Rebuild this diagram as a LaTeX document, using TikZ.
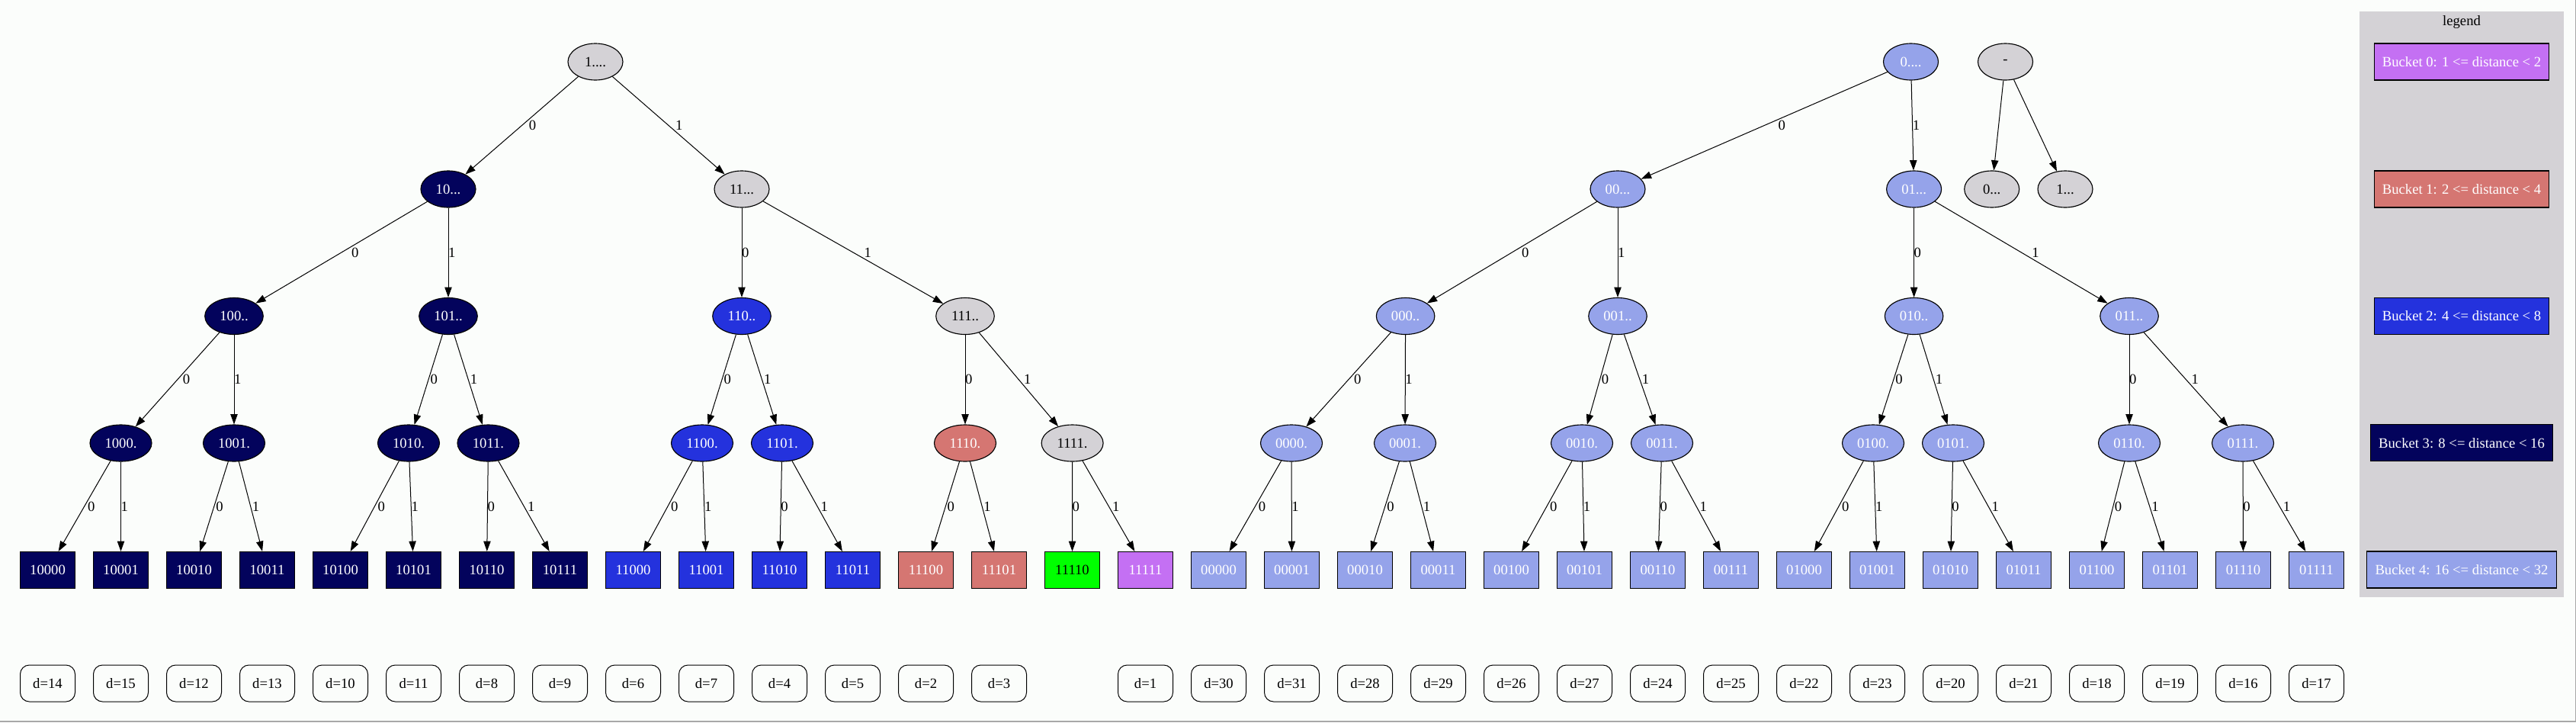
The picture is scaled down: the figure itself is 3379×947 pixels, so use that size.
\documentclass[tikz,border=0pt]{standalone}
\usepackage{fontspec}
\setmainfont{Liberation Serif}
\usetikzlibrary{shapes.geometric,arrows.meta,calc}
\definecolor{bgc}{HTML}{FBFDFB}
\definecolor{cgrey}{HTML}{D4D2D6}
\definecolor{cnavy}{HTML}{03035C}
\definecolor{cblue}{HTML}{2432DD}
\definecolor{cred}{HTML}{D57672}
\definecolor{cpurple}{HTML}{C470F3}
\definecolor{clb}{HTML}{95A3EA}
\definecolor{cgreen}{HTML}{00FF00}
\definecolor{cframe}{HTML}{A8A8A8}
\tikzset{
  every node/.style={font=\fontsize{14pt}{16pt}\selectfont},
  en/.style={ellipse, draw=black, line width=0.85pt, minimum height=36pt, minimum width=54pt, inner sep=0pt},
  wthree/.style={minimum width=57.4pt},
  wfour/.style={minimum width=60.75pt},
  lf/.style={rectangle, draw=black, line width=0.85pt, minimum width=54pt, minimum height=36pt, inner sep=0pt},
  dn/.style={rectangle, rounded corners=9pt, draw=black, line width=0.75pt, minimum width=54pt, minimum height=36pt, inner sep=0pt},
  lg/.style={rectangle, draw=black, line width=0.85pt, minimum height=36pt, inner xsep=8pt, text=white},
  cg/.style={fill=cgrey, text=black},
  cz/.style={fill=cpurple, text=white},
  co/.style={fill=cred, text=white},
  ct/.style={fill=cblue, text=white},
  cth/.style={fill=cnavy, text=white},
  cf/.style={fill=clb, text=white},
  cs/.style={fill=cgreen, text=black},
  edge/.style={draw=black, line width=0.75pt, -{Triangle[length=10pt,width=7pt]}},
  elbl/.style={inner sep=0pt, text=black},
}
\newcommand\edg[3]{%
  \draw[edge] (#1) -- (#2);
  \path let \p1=(#1.center), \p2=(#2.center),
    \n1={abs(\x2-\x1)/abs(\y2-\y1)} in
    node[elbl] at ($(\p1)!0.5!(\p2)+(3.5pt+6pt*\n1,0pt)$) {#3};}
\begin{document}
\begin{tikzpicture}[x=0.75pt,y=-0.75pt]
\useasboundingbox (0,0) rectangle (3379,947);
\fill[bgc] (0,0) rectangle (3379,947);
% legend cluster
\fill[cgrey] (3095,15) rectangle (3363,782.6);
\node (legendtitle) at (3229,29) {legend};
\node[lg, fill=cpurple] (b0) at (3229,81) {Bucket 0: 1 <= distance < 2};
\node[lg, fill=cred] (b1) at (3229,248) {Bucket 1: 2 <= distance < 4};
\node[lg, fill=cblue] (b2) at (3229,414.6) {Bucket 2: 4 <= distance < 8};
\node[lg, fill=cnavy] (b3) at (3229,580.7) {Bucket 3: 8 <= distance < 16};
\node[lg, fill=clb] (b4) at (3229,747) {Bucket 4: 16 <= distance < 32};
% row 0
\node[en,cg] (n1) at (781,81) {1....};
\node[en,cf] (n0) at (2506.5,81) {0....};
\node[en,cg] (nroot) at (2630.5,81) {-};
% row 1
\node[en,cth] (n10) at (588,248) {10...};
\node[en,cg] (n11) at (973,248) {11...};
\node[en,cf] (n00) at (2122,248) {00...};
\node[en,cf] (n01) at (2510.6,248) {01...};
\node[en,cg] (r0) at (2612.7,248) {0...};
\node[en,cg] (r1) at (2709,248) {1...};
% row 2
\node[en,wthree,cth] (n100) at (307,414.5) {100..};
\node[en,wthree,cth] (n101) at (588,414.5) {101..};
\node[en,wthree,ct] (n110) at (973,414.5) {110..};
\node[en,wthree,cg] (n111) at (1266,414.5) {111..};
\node[en,wthree,cf] (n000) at (1843.6,414.5) {000..};
\node[en,wthree,cf] (n001) at (2122,414.5) {001..};
\node[en,wthree,cf] (n010) at (2510.6,414.5) {010..};
\node[en,wthree,cf] (n011) at (2793,414.5) {011..};
% row 3
\node[en,wfour,cth] (n1000) at (158.5,581) {1000.};
\node[en,wfour,cth] (n1001) at (307,581) {1001.};
\node[en,wfour,cth] (n1010) at (536,581) {1010.};
\node[en,wfour,cth] (n1011) at (640.5,581) {1011.};
\node[en,wfour,ct] (n1100) at (921,581) {1100.};
\node[en,wfour,ct] (n1101) at (1026,581) {1101.};
\node[en,wfour,co] (n1110) at (1266,581) {1110.};
\node[en,wfour,cg] (n1111) at (1406.6,581) {1111.};
\node[en,wfour,cf] (n0000) at (1694,581) {0000.};
\node[en,wfour,cf] (n0001) at (1843,581) {0001.};
\node[en,wfour,cf] (n0010) at (2075,581) {0010.};
\node[en,wfour,cf] (n0011) at (2180,581) {0011.};
\node[en,wfour,cf] (n0100) at (2457,581) {0100.};
\node[en,wfour,cf] (n0101) at (2562,581) {0101.};
\node[en,wfour,cf] (n0110) at (2793,581) {0110.};
\node[en,wfour,cf] (n0111) at (2942,581) {0111.};
% leaves
\foreach \lab/\sty [count=\i from 0] in {10000/cth,10001/cth,10010/cth,10011/cth,10100/cth,10101/cth,10110/cth,10111/cth,11000/ct,11001/ct,11010/ct,11011/ct,11100/co,11101/co,11110/cs,11111/cz,00000/cf,00001/cf,00010/cf,00011/cf,00100/cf,00101/cf,00110/cf,00111/cf,01000/cf,01001/cf,01010/cf,01011/cf,01100/cf,01101/cf,01110/cf,01111/cf}
  {\node[lf,\sty] (l\lab) at (62.5+96*\i,747.5) {\lab};}
% distance row
\foreach \i/\dd in {0/14,1/15,2/12,3/13,4/10,5/11,6/8,7/9,8/6,9/7,10/4,11/5,12/2,13/3,15/1,16/30,17/31,18/28,19/29,20/26,21/27,22/24,23/25,24/22,25/23,26/20,27/21,28/18,29/19,30/16,31/17}
  {\node[dn] (d\i) at (62.5+96*\i,896) {d=\dd};}
% edges
\foreach \q in {1,0,10,11,00,01,100,101,110,111,000,001,010,011}
  {\edg{n\q}{n\q0}{0}\edg{n\q}{n\q1}{1}}
\foreach \q in {1000,1001,1010,1011,1100,1101,1110,1111,0000,0001,0010,0011,0100,0101,0110,0111}
  {\edg{n\q}{l\q0}{0}\edg{n\q}{l\q1}{1}}
\draw[edge] (nroot) -- (r0);
\draw[edge] (nroot) -- (r1);
% frame lines
\draw[cframe, line width=1.1pt] (3378.3,0) -- (3378.3,947);
\draw[cframe, line width=1.1pt] (0,946) -- (3379,946);
\end{tikzpicture}
\end{document}
